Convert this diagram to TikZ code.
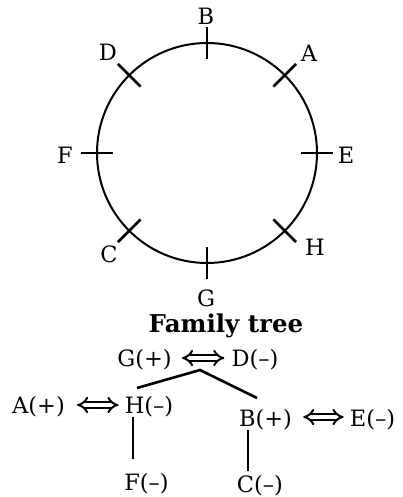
\documentclass[tikz,border=0pt]{standalone}
\usepackage{fontspec}
\setmainfont{DejaVu Serif}
\usetikzlibrary{arrows.meta,calc}
\begin{document}
\begin{tikzpicture}[x=1pt,y=-1pt,
  lbl/.style={font=\fontsize{22.5}{24}\selectfont, inner sep=0pt, anchor=base},
  ttl/.style={font=\fontsize{24.5}{26}\selectfont\bfseries, inner sep=0pt, anchor=base},
  tickmark/.style={line width=2.6pt},
  ring/.style={line width=2pt},
  tie/.style={line width=2.6pt},
  dbl/.style={double, double distance=3.4pt, line width=2pt, {Implies}-{Implies}}]
\useasboundingbox (0,0) rectangle (402,497);
% seating circle
\coordinate (O) at (207,153);
\draw[ring] (O) circle[radius=110pt];
\foreach \a in {0,45,...,315}
  \draw[tickmark] ($(O)+(\a:94)$) -- ($(O)+(\a:126)$);
\node[lbl] (cB) at (206,25) {B};
\node[lbl] (cD) at (108,61) {D};
\node[lbl] (cA) at (309,62) {A};
\node[lbl] (cF) at (65,163) {F};
\node[lbl] (cE) at (346,163) {E};
\node[lbl] (cC) at (109,262) {C};
\node[lbl] (cH) at (315,255) {H};
\node[lbl] (cG) at (206,306) {G};
% family tree
\node[ttl] (title) at (226,332) {Family tree};
\node[lbl] (tG) at (144.5,366) {G(+)};
\node[lbl] (tD) at (255,366) {D(–)};
\node[lbl] (tA) at (38.5,413) {A(+)};
\node[lbl] (tH) at (149,413) {H(–)};
\node[lbl] (tB) at (265.5,426) {B(+)};
\node[lbl] (tE) at (372.5,426) {E(–)};
\node[lbl] (tF) at (146.5,490) {F(–)};
\node[lbl] (tC) at (260,492) {C(–)};
\draw[dbl] ($(tG.base east)+(10,-8)$) -- ($(tD.base west)+(-7,-8)$);
\draw[dbl] ($(tA.base east)+(12,-8)$) -- ($(tH.base west)+(-6,-8)$);
\draw[dbl] ($(tB.base east)+(11,-9)$) -- ($(tE.base west)+(-6,-9)$);
\coordinate (pk) at (200,370);
\coordinate (hl) at (137,388);
\coordinate (br) at (257,398);
\draw[tie] (hl) -- (pk) -- (br);
\coordinate (hf) at (133,0);
\coordinate (bc) at (248,0);
\draw[tie, shorten >=14pt] (tH.south -| hf) -- (tF.north -| hf);
\draw[tie, shorten >=4pt] (tB.south -| bc) -- (tC.north -| bc);
\end{tikzpicture}
\end{document}
